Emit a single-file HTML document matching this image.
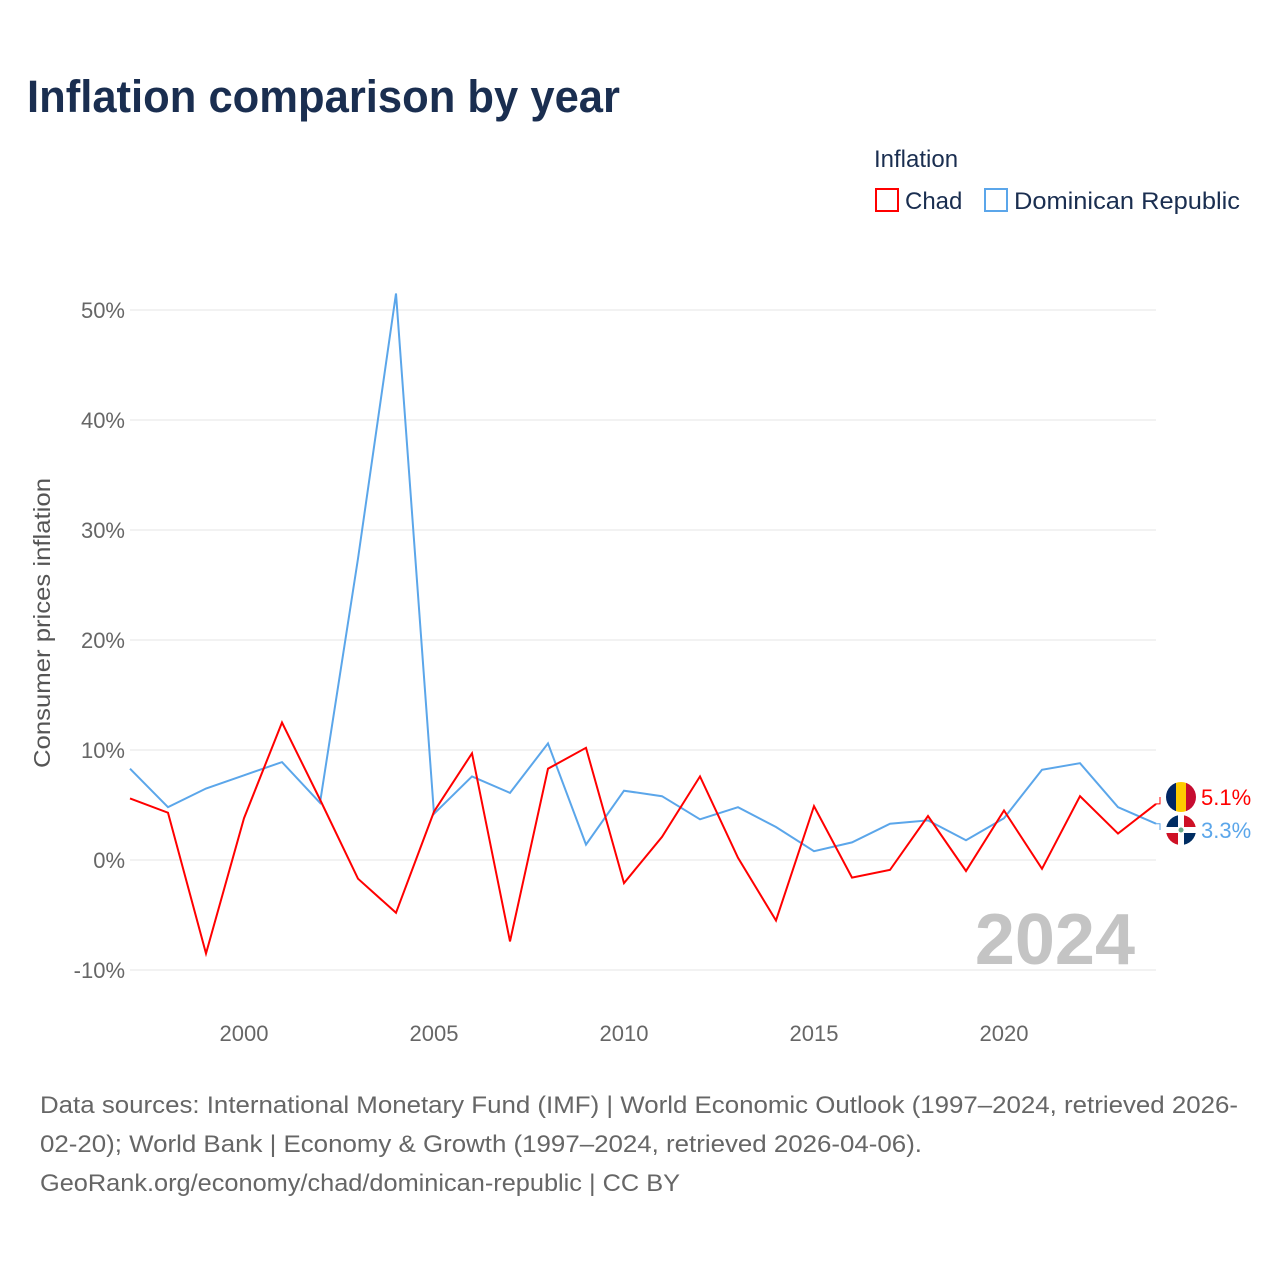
<!DOCTYPE html>
<html><head><meta charset="utf-8"><style>
body{margin:0;background:#fff;font-family:"Liberation Sans",sans-serif;}
#wrap{position:relative;width:1280px;height:1280px;overflow:hidden}
</style></head><body>
<div id="wrap">
<svg id="chart" width="1280" height="1280" style="font-family:'Liberation Sans',sans-serif">
<text x="27" y="112" font-size="45" font-weight="bold" fill="#1a2e50" textLength="593" lengthAdjust="spacingAndGlyphs">Inflation comparison by year</text>
<text x="874" y="167" font-size="24" fill="#1a2e50">Inflation</text>
<g><rect x="876" y="189" width="22" height="22" fill="none" stroke="#f00" stroke-width="2"/><text x="905" y="209" font-size="24" fill="#1a2e50">Chad</text></g>
<g><rect x="985" y="189" width="22" height="22" fill="none" stroke="#5ba6ea" stroke-width="2"/><text x="1014" y="209" font-size="24" fill="#1a2e50" textLength="226" lengthAdjust="spacingAndGlyphs">Dominican Republic</text></g>
<g id="grid"></g>
<g id="yt"></g>
<g id="xt"></g>
<text transform="translate(50,623) rotate(-90)" text-anchor="middle" font-size="23" fill="#555" textLength="290" lengthAdjust="spacingAndGlyphs">Consumer prices inflation</text>
<text x="1135" y="964" text-anchor="end" font-size="72" font-weight="bold" fill="#c4c4c4">2024</text>
<g id="series"></g>
<text x="40" y="1113" font-size="24" fill="#666" textLength="1198" lengthAdjust="spacingAndGlyphs">Data sources: International Monetary Fund (IMF) | World Economic Outlook (1997–2024, retrieved 2026-</text>
<text x="40" y="1152" font-size="24" fill="#666" textLength="882" lengthAdjust="spacingAndGlyphs">02-20); World Bank | Economy &amp; Growth (1997–2024, retrieved 2026-04-06).</text>
<text x="40" y="1191" font-size="24" fill="#666" textLength="640" lengthAdjust="spacingAndGlyphs">GeoRank.org/economy/chad/dominican-republic | CC BY</text>
</svg></div>
<script>
const years=[1997,1998,1999,2000,2001,2002,2003,2004,2005,2006,2007,2008,2009,2010,2011,2012,2013,2014,2015,2016,2017,2018,2019,2020,2021,2022,2023,2024];
const chad=[5.6,4.3,-8.5,3.8,12.5,5.5,-1.7,-4.8,4.4,9.7,-7.4,8.3,10.2,-2.1,2.1,7.6,0.2,-5.5,4.9,-1.6,-0.9,4.0,-1.0,4.5,-0.8,5.8,2.4,5.1];
const dr=[8.3,4.8,6.5,7.7,8.9,5.2,27.4,51.5,4.2,7.6,6.1,10.6,1.4,6.3,5.8,3.7,4.8,3.0,0.8,1.6,3.3,3.6,1.8,3.8,8.2,8.8,4.8,3.3];
const yTicks=[-10,0,10,20,30,40,50];
const xTicks=[2000,2005,2010,2015,2020];
const X=y=>130+(y-1997)*38;
const Y=v=>860-v*11;
const NS='http://www.w3.org/2000/svg';
function mk(t,a,p){const e=document.createElementNS(NS,t);for(const k in a)e.setAttribute(k,a[k]);p.appendChild(e);return e;}
const grid=document.getElementById('grid'),yt=document.getElementById('yt'),xt=document.getElementById('xt'),se=document.getElementById('series');
yTicks.forEach(v=>{
 const l=mk('line',{x1:130,x2:1156,y1:Y(v),y2:Y(v),stroke:'#e6e6e6','stroke-width':1},grid);
 
 
 const t=mk('text',{x:125,y:Y(v)+8,'text-anchor':'end','font-size':22,fill:'#666'},yt);
 t.textContent=v+'%';
 
 
});
xTicks.forEach(y=>{
 const t=mk('text',{x:X(y),y:1041,'text-anchor':'middle','font-size':22,fill:'#666'},xt);
 t.textContent=y;
 
 
});
function line(d,c,name){
 const p=mk('polyline',{points:d.map((v,i)=>X(years[i])+','+Y(v)).join(' '),fill:'none',stroke:c,'stroke-width':2,'stroke-linejoin':'miter'},se);
 
 
}
line(dr,'#5ba6ea','line-dominican-republic');
line(chad,'#f00','line-chad');
const cy=Y(chad[chad.length-1]),dy=Y(dr[dr.length-1]);
const cl=797,dl=830;
mk('polyline',{points:`1156,${cy} 1160,${cy} 1160,${cl}`,fill:'none',stroke:'#f00','stroke-width':1},se);
mk('polyline',{points:`1156,${dy} 1160,${dy} 1160,${dl}`,fill:'none',stroke:'#5ba6ea','stroke-width':1},se);
const fc=mk('g',{},se);


const c1=mk('clipPath',{id:'c1'},fc);mk('circle',{cx:1181,cy:cl,r:15},c1);
const g1=mk('g',{'clip-path':'url(#c1)'},fc);
mk('rect',{x:1166,y:cl-15,width:10,height:30,fill:'#002664'},g1);
mk('rect',{x:1176,y:cl-15,width:10,height:30,fill:'#fecb00'},g1);
mk('rect',{x:1186,y:cl-15,width:10,height:30,fill:'#c60c30'},g1);
const fd=mk('g',{},se);


const c2=mk('clipPath',{id:'c2'},fd);mk('circle',{cx:1181,cy:dl,r:15},c2);
const g2=mk('g',{'clip-path':'url(#c2)'},fd);
mk('rect',{x:1166,y:dl-15,width:30,height:30,fill:'#fff'},g2);
mk('rect',{x:1166,y:dl-15,width:12,height:12,fill:'#002d62'},g2);
mk('rect',{x:1184,y:dl-15,width:12,height:12,fill:'#ce1126'},g2);
mk('rect',{x:1166,y:dl+3,width:12,height:12,fill:'#ce1126'},g2);
mk('rect',{x:1184,y:dl+3,width:12,height:12,fill:'#002d62'},g2);
mk('circle',{cx:1181,cy:dl,r:2.5,fill:'#6a8'},g2);
const t1=mk('text',{x:1201,y:cl+8,'font-size':22,fill:'#f00'},se);t1.textContent=chad[chad.length-1].toFixed(1)+'%';


const t2=mk('text',{x:1201,y:dl+8,'font-size':22,fill:'#5ba6ea'},se);t2.textContent=dr[dr.length-1].toFixed(1)+'%';


</script>
</body></html>
